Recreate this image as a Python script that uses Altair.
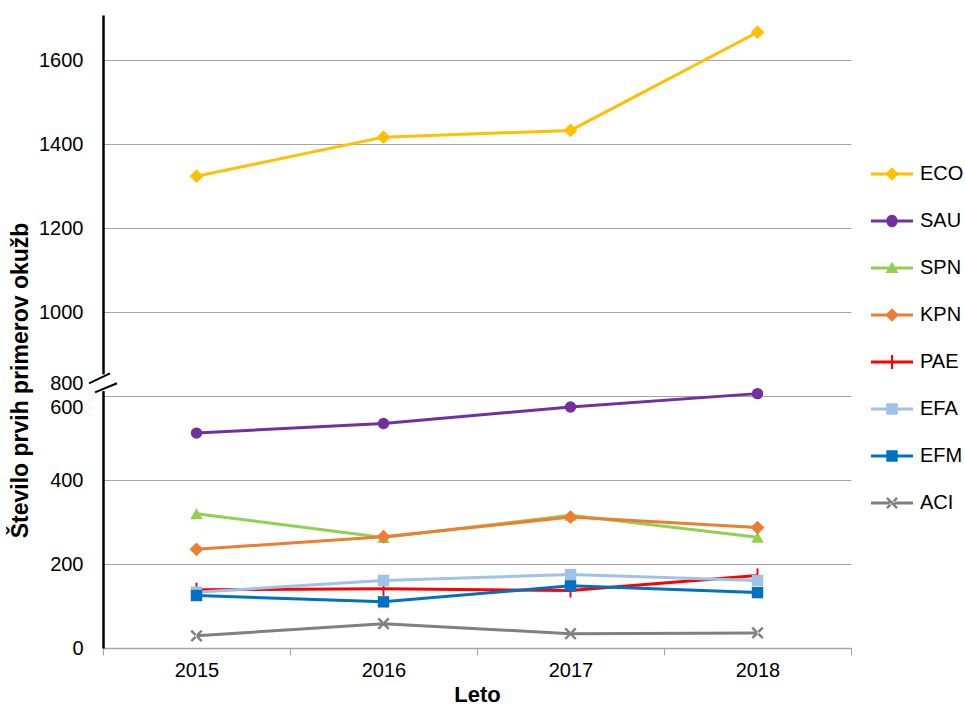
import altair as alt
import pandas as pd

years = [2015, 2016, 2017, 2018]
series = ["ECO", "SAU", "SPN", "KPN", "PAE", "EFA", "EFM", "ACI"]
values = {
    "ECO": [1324, 1417, 1433, 1667],
    "SAU": [512, 535, 574, 606],
    "SPN": [320, 263, 316, 264],
    "KPN": [235, 265, 312, 287],
    "PAE": [139, 141, 137, 173],
    "EFA": [133, 161, 175, 161],
    "EFM": [125, 110, 148, 132],
    "ACI": [29, 58, 34, 36],
}
colors = ["#FFC000", "#7030A0", "#92D050", "#ED7D31", "#FF0000", "#9DC3E6", "#0070C0", "#808080"]

# break in the y axis: values above the break are drawn 200 lower
BREAK_LOW, BREAK_HIGH = 600, 800

PLUS = "M-0.14,-1H0.14V1H-0.14Z"
XMARK = "M-1,-0.72L-0.72,-1L1,0.72L0.72,1Z M1,-0.72L0.72,-1L-1,0.72L-0.72,1Z"
shapes = ["diamond", "circle", "triangle-up", "diamond", PLUS, "square", "square", XMARK]
sizes = [190, 130, 160, 190, 196, 130, 130, 150]

# legend symbols: line segment plus marker
LINE = "M-1,-0.07H1V0.07H-1Z "
leg_marks = [
    "M-0.32,0L0,-0.32L0.32,0L0,0.32Z",
    "M-0.27,0A0.27,0.3 0 1,1 0.27,0A0.27,0.3 0 1,1 -0.27,0Z",
    "M0,-0.3L0.3,0.24L-0.3,0.24Z",
    "M-0.32,0L0,-0.32L0.32,0L0,0.32Z",
    "M-0.05,-0.33H0.05V0.33H-0.05Z",
    "M-0.27,-0.27H0.27V0.27H-0.27Z",
    "M-0.27,-0.27H0.27V0.27H-0.27Z",
    "M-0.28,-0.2L-0.2,-0.28L0.28,0.2L0.2,0.28Z M0.28,-0.2L0.2,-0.28L-0.28,0.2L-0.2,0.28Z",
]
leg_shapes = [LINE + m for m in leg_marks]

rows = []
for i, s in enumerate(series):
    for y, v in zip(years, values[s]):
        t = v - (BREAK_HIGH - BREAK_LOW) if v > 700 else v
        rows.append({"Leto": y, "serija": s, "vrednost": v, "t": t, "order": i,
                     "color": colors[i], "shape": shapes[i], "size": sizes[i]})
df = pd.DataFrame(rows)

FONT = "Liberation Sans"
ydom = [0, 1508]
xdom = [2014.5, 2018.5]
yscale = alt.Scale(domain=ydom, nice=False, zero=False)
xscale = alt.Scale(domain=xdom, nice=False, zero=False)

x_enc = alt.X("Leto:Q", scale=xscale, axis=None)
y_enc = alt.Y("t:Q", scale=yscale, axis=None)

base = alt.Chart(df)

lines = base.mark_line(strokeWidth=3).encode(
    x=x_enc, y=y_enc,
    color=alt.Color("color:N", scale=None),
    detail="serija:N",
    order="order:Q",
)

points = base.mark_point(filled=True, opacity=1).encode(
    x=x_enc, y=y_enc,
    color=alt.Color("color:N", scale=None),
    shape=alt.Shape("shape:N", scale=None),
    size=alt.Size("size:Q", scale=None),
    order="order:Q",
)

# y axis with grid
ticks_t = [0, 200, 400, 600, 800, 1000, 1200, 1400]
yaxis = alt.Chart(pd.DataFrame({"t": [0]})).mark_point(opacity=0).encode(
    y=alt.Y("t:Q", scale=yscale,
            axis=alt.Axis(values=ticks_t, grid=True, gridColor="#A6A6A6", gridWidth=1,
                          domainColor="#000000", domainWidth=2.5, ticks=False,
                          labelFont=FONT, labelFontSize=20, labelColor="#000000",
                          labelPadding=20, orient="left",
                          labelExpr="datum.value == 600 ? ['800', '600'] : (datum.value > 600 ? format(datum.value + 200, 'd') : format(datum.value, 'd'))",
                          labelLineHeight=24,
                          labelOffset={"condition": {"test": "datum.value == 600", "value": -13}, "value": 0},
                          title="Število prvih primerov okužb",
                          titleFont=FONT, titleFontSize=23, titleFontWeight="bold",
                          titleColor="#000000", titleX=-83, titleY=365,
                          titleBaseline="middle", titleAngle=270)),
)

# x axis: ticks between categories
xticks = alt.Chart(pd.DataFrame({"Leto": [2015]})).mark_point(opacity=0).encode(
    x=alt.X("Leto:Q", scale=xscale,
            axis=alt.Axis(values=[2014.5, 2015.5, 2016.5, 2017.5, 2018.5], labels=False,
                          grid=False, tickSize=7, tickColor="#A6A6A6", domainColor="#A6A6A6",
                          domainWidth=1.5, title=None, orient="bottom")),
)
xlabels = alt.Chart(pd.DataFrame({"Leto": [2015]})).mark_point(opacity=0).encode(
    x=alt.X("Leto:Q", scale=xscale,
            axis=alt.Axis(values=years, format="d", ticks=False, domain=False, grid=False,
                          labelFont=FONT, labelFontSize=20, labelColor="#000000",
                          labelPadding=12, title="Leto", titleFont=FONT, titleFontSize=22,
                          titleFontWeight="bold", titleColor="#000000", titlePadding=4,
                          orient="bottom")),
)

# axis break marks
brk = pd.DataFrame({"y1": [612.0], "y2": [652.0]})
gap = alt.Chart(brk).mark_rule(color="white", strokeWidth=4).encode(
    x=alt.value(0), y=alt.Y("y1:Q", scale=yscale, axis=None), y2="y2:Q")
brk2 = pd.DataFrame({"a": [630.6, 609.0], "b": [654.4, 630.6], "xa": [-14, -8], "xb": [7, 14]})
slashes = alt.Chart(brk2).mark_rule(color="black", strokeWidth=2).encode(
    x=alt.X("xa:Q", scale=None), x2="xb:Q",
    y=alt.Y("a:Q", scale=yscale, axis=None), y2="b:Q")

# legend layer (draws nothing, only the legend)
legend_layer = base.mark_point(filled=True).encode(
    shape=alt.Shape("serija:N", scale=alt.Scale(domain=series, range=leg_shapes),
                    legend=alt.Legend(title=None, orient="none", legendX=768, legendY=138,
                                      symbolSize=1764, labelFont=FONT, labelFontSize=20,
                                      labelColor="#000000", labelOffset=7, rowPadding=16,
                                      symbolOpacity=1, symbolStrokeWidth=0, padding=0)),
    color=alt.Color("serija:N", scale=alt.Scale(domain=series, range=colors)),
).transform_filter("false")

chart = alt.layer(yaxis, xticks, xlabels, lines, points, gap, slashes, legend_layer).resolve_scale(
    x="shared", y="shared"
).resolve_axis(
    x="independent", y="independent"
).properties(
    width=748, height=633,
    background="white",
    autosize=alt.AutoSizeParams(type="none"),
    padding={"left": 103, "top": 15, "right": 114, "bottom": 60},
).configure_view(stroke="transparent", strokeWidth=0)

chart.save("out.html", embed_options={"renderer": "svg", "actions": False})
